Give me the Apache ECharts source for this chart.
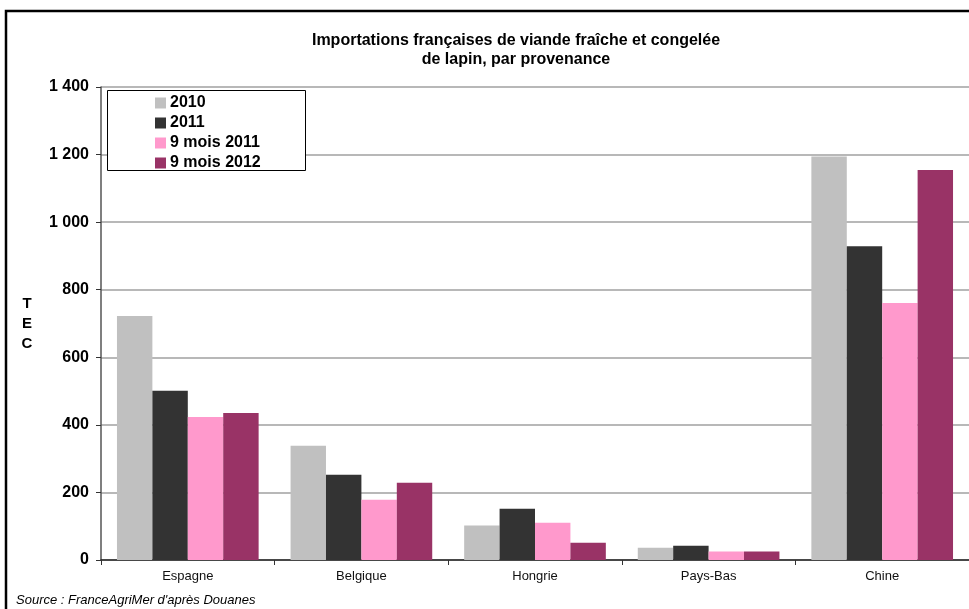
<!DOCTYPE html>
<html><head><meta charset="utf-8">
<script src="https://cdn.jsdelivr.net/npm/echarts@6/dist/echarts.min.js"></script>
<style>html,body{margin:0;padding:0;background:#fff}#c{width:969px;height:609px}</style>
</head><body><div id="c"></div>
<script>
const categories = ['Espagne', 'Belgique', 'Hongrie', 'Pays-Bas', 'Chine'];
const seriesNames = ['2010', '2011', '9 mois 2011', '9 mois 2012'];
const v2010 = [722, 338, 102, 36, 1194];
const v2011 = [501, 252, 152, 42, 929];
const v9m2011 = [423, 178, 110, 25, 761];
const v9m2012 = [435, 229, 51, 25, 1154];
const colors = ['#C0C0C0', '#333333', '#FF99CC', '#993366'];
const titleLines = ['Importations françaises de viande fraîche et congelée', 'de lapin, par provenance'];
const sourceText = "Source : FranceAgriMer d'après Douanes";
const FONT = '"Liberation Sans", Arial, sans-serif';

const data = [v2010, v2011, v9m2011, v9m2012];
const chart = echarts.init(document.getElementById('c'), null, {renderer: 'canvas'});
chart.setOption({
  animation: false,
  textStyle: {fontFamily: FONT},
  grid: {left: 101, top: 87, width: 870, bottom: 49, containLabel: false},
  legend: {
    orient: 'vertical', left: 155, top: 95, padding: 0, itemGap: 4,
    itemWidth: 11, itemHeight: 11, icon: 'rect', z: 10,
    textStyle: {fontFamily: FONT, fontWeight: 'bold', fontSize: 16, color: '#000', lineHeight: 16, padding: [0, 0, 0, -1]},
    data: seriesNames
  },
  xAxis: {
    type: 'category', data: categories,
    axisLine: {lineStyle: {color: '#222', width: 1.5}},
    axisTick: {show: true, length: 5, lineStyle: {color: '#333'}},
    axisLabel: {fontFamily: FONT, fontSize: 13, color: '#111', margin: 10}
  },
  yAxis: {
    type: 'value', min: 0, max: 1400, interval: 200,
    axisLine: {show: true, lineStyle: {color: '#555', width: 1.5}},
    axisTick: {show: true, length: 5, lineStyle: {color: '#333'}},
    splitLine: {lineStyle: {color: '#A0A0A0', width: 1.5}},
    axisLabel: {fontFamily: FONT, fontSize: 16, fontWeight: 'bold', color: '#000', margin: 12,
      formatter: v => String(v).replace(/\B(?=(\d{3})+(?!\d))/g, ' ')}
  },
  series: seriesNames.map((n, i) => ({
    name: n, type: 'bar', data: data[i], barGap: '0%', barCategoryGap: '18.4%',
    itemStyle: {color: colors[i]}
  })),
  graphic: [
    {type: 'rect', shape: {x: 6, y: 11, width: 1000, height: 700}, style: {fill: 'none', stroke: '#000', lineWidth: 2.5}, z: 1, silent: true},
    {type: 'rect', shape: {x: 107.5, y: 90.5, width: 198, height: 80}, style: {fill: '#fff', stroke: '#000', lineWidth: 1}, z: 5, silent: true},
    {type: 'text', x: 516, y: 31, z: 5, style: {text: titleLines.join('\n'), fill: '#000', font: 'bold 16px ' + FONT, textAlign: 'center', lineHeight: 19}},
    {type: 'text', x: 27, y: 294, z: 5, style: {text: 'T\nE\nC', fill: '#000', font: 'bold 15px ' + FONT, textAlign: 'center', lineHeight: 20}},
    {type: 'text', x: 16, y: 594, z: 5, style: {text: sourceText, fill: '#000', font: 'italic 13px ' + FONT}}
  ]
});
</script></body></html>
